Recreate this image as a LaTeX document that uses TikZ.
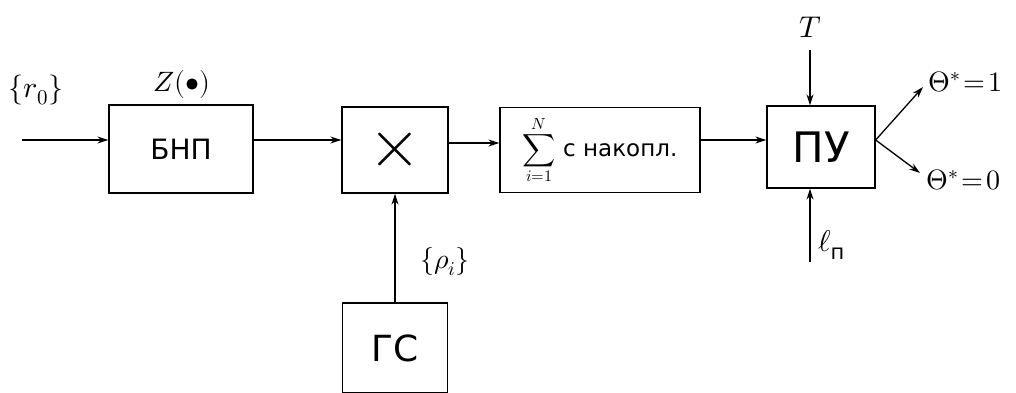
\documentclass[tikz,border=0pt]{standalone}
\usepackage{fontspec}
\usepackage{unicode-math}
\setmainfont{DejaVu Sans}
\setmathfont{Latin Modern Math}
\usetikzlibrary{arrows.meta}
\begin{document}
\begin{tikzpicture}[x=1pt,y=-1pt,
  blk/.style={draw,line width=1.3pt,minimum width=#1,inner sep=0pt},
  blk/.default=100pt,
  conn/.style={line width=1.3pt,-{Stealth[length=11pt,width=7pt]}},
  lbl/.style={font=\fontsize{28}{30}\selectfont,inner sep=0pt}]
\useasboundingbox (0,0) rectangle (1016,392);
\node[blk=144pt,minimum height=88pt,font=\fontsize{28}{30}\selectfont] (bnp) at (181,149) {БНП};
\node[blk=106pt,minimum height=86pt,font=\fontsize{68}{68}\selectfont] (mul) at (395,150) {$\times$};
\node[blk=200pt,minimum height=85pt,font=\fontsize{23}{26}\selectfont] (sum) at (600,150)
  {$\displaystyle\sum_{i=1}^{N}$\ с накопл.};
\node[blk=108pt,minimum height=82pt,font=\fontsize{42}{44}\selectfont] (pu) at (821,147) {ПУ};
\node[blk=105pt,minimum height=90pt,font=\fontsize{36}{38}\selectfont] (gs) at (395,348) {ГС};
\coordinate (in) at (22,140);
\coordinate (tt) at (810,50);
\coordinate (ln) at (810,262);
\coordinate (o1) at (923,87);
\coordinate (o0) at (920,173);
\node[lbl,font=\fontsize{30}{32}\selectfont] (r0) at (36,90) {$\{r_{0}\}$};
\node[lbl] (z) at (182,84) {$Z(\bullet)$};
\node[lbl] (rho) at (445,262) {$\{\rho_{i}\}$};
\node[lbl,font=\fontsize{30}{32}\selectfont,anchor=south] (tl) at (810,38) {$T$};
\node[lbl,font=\fontsize{30}{32}\selectfont,anchor=west] (lnl) at (818,245) {$\ell_{\text{п}}$};
\node[lbl,anchor=west] (t1) at (928,82) {$\Theta^{*}\!=\!1$};
\node[lbl,anchor=west] (t0) at (926,180) {$\Theta^{*}\!=\!0$};
\draw[conn] (in) -- (bnp.west|-in);
\draw[conn] (bnp.east|-in) -- (mul.west|-in);
\draw[conn] (mul.east|-sum.west) ++(0,-7) coordinate (a) (a) -- (sum.west|-a);
\draw[conn] (sum.east|-pu.west) ++(0,-7) coordinate (b) (b) -- (pu.west|-b);
\draw[conn] (gs.north) -- (mul.south);
\draw[conn] (tt) -- (pu.north-|tt);
\draw[conn] (ln) -- (pu.south-|ln);
\draw[conn] (pu.east) ++(0,-7) coordinate (c) (c) -- (o1);
\draw[conn] (c) -- (o0);
\end{tikzpicture}
\end{document}
